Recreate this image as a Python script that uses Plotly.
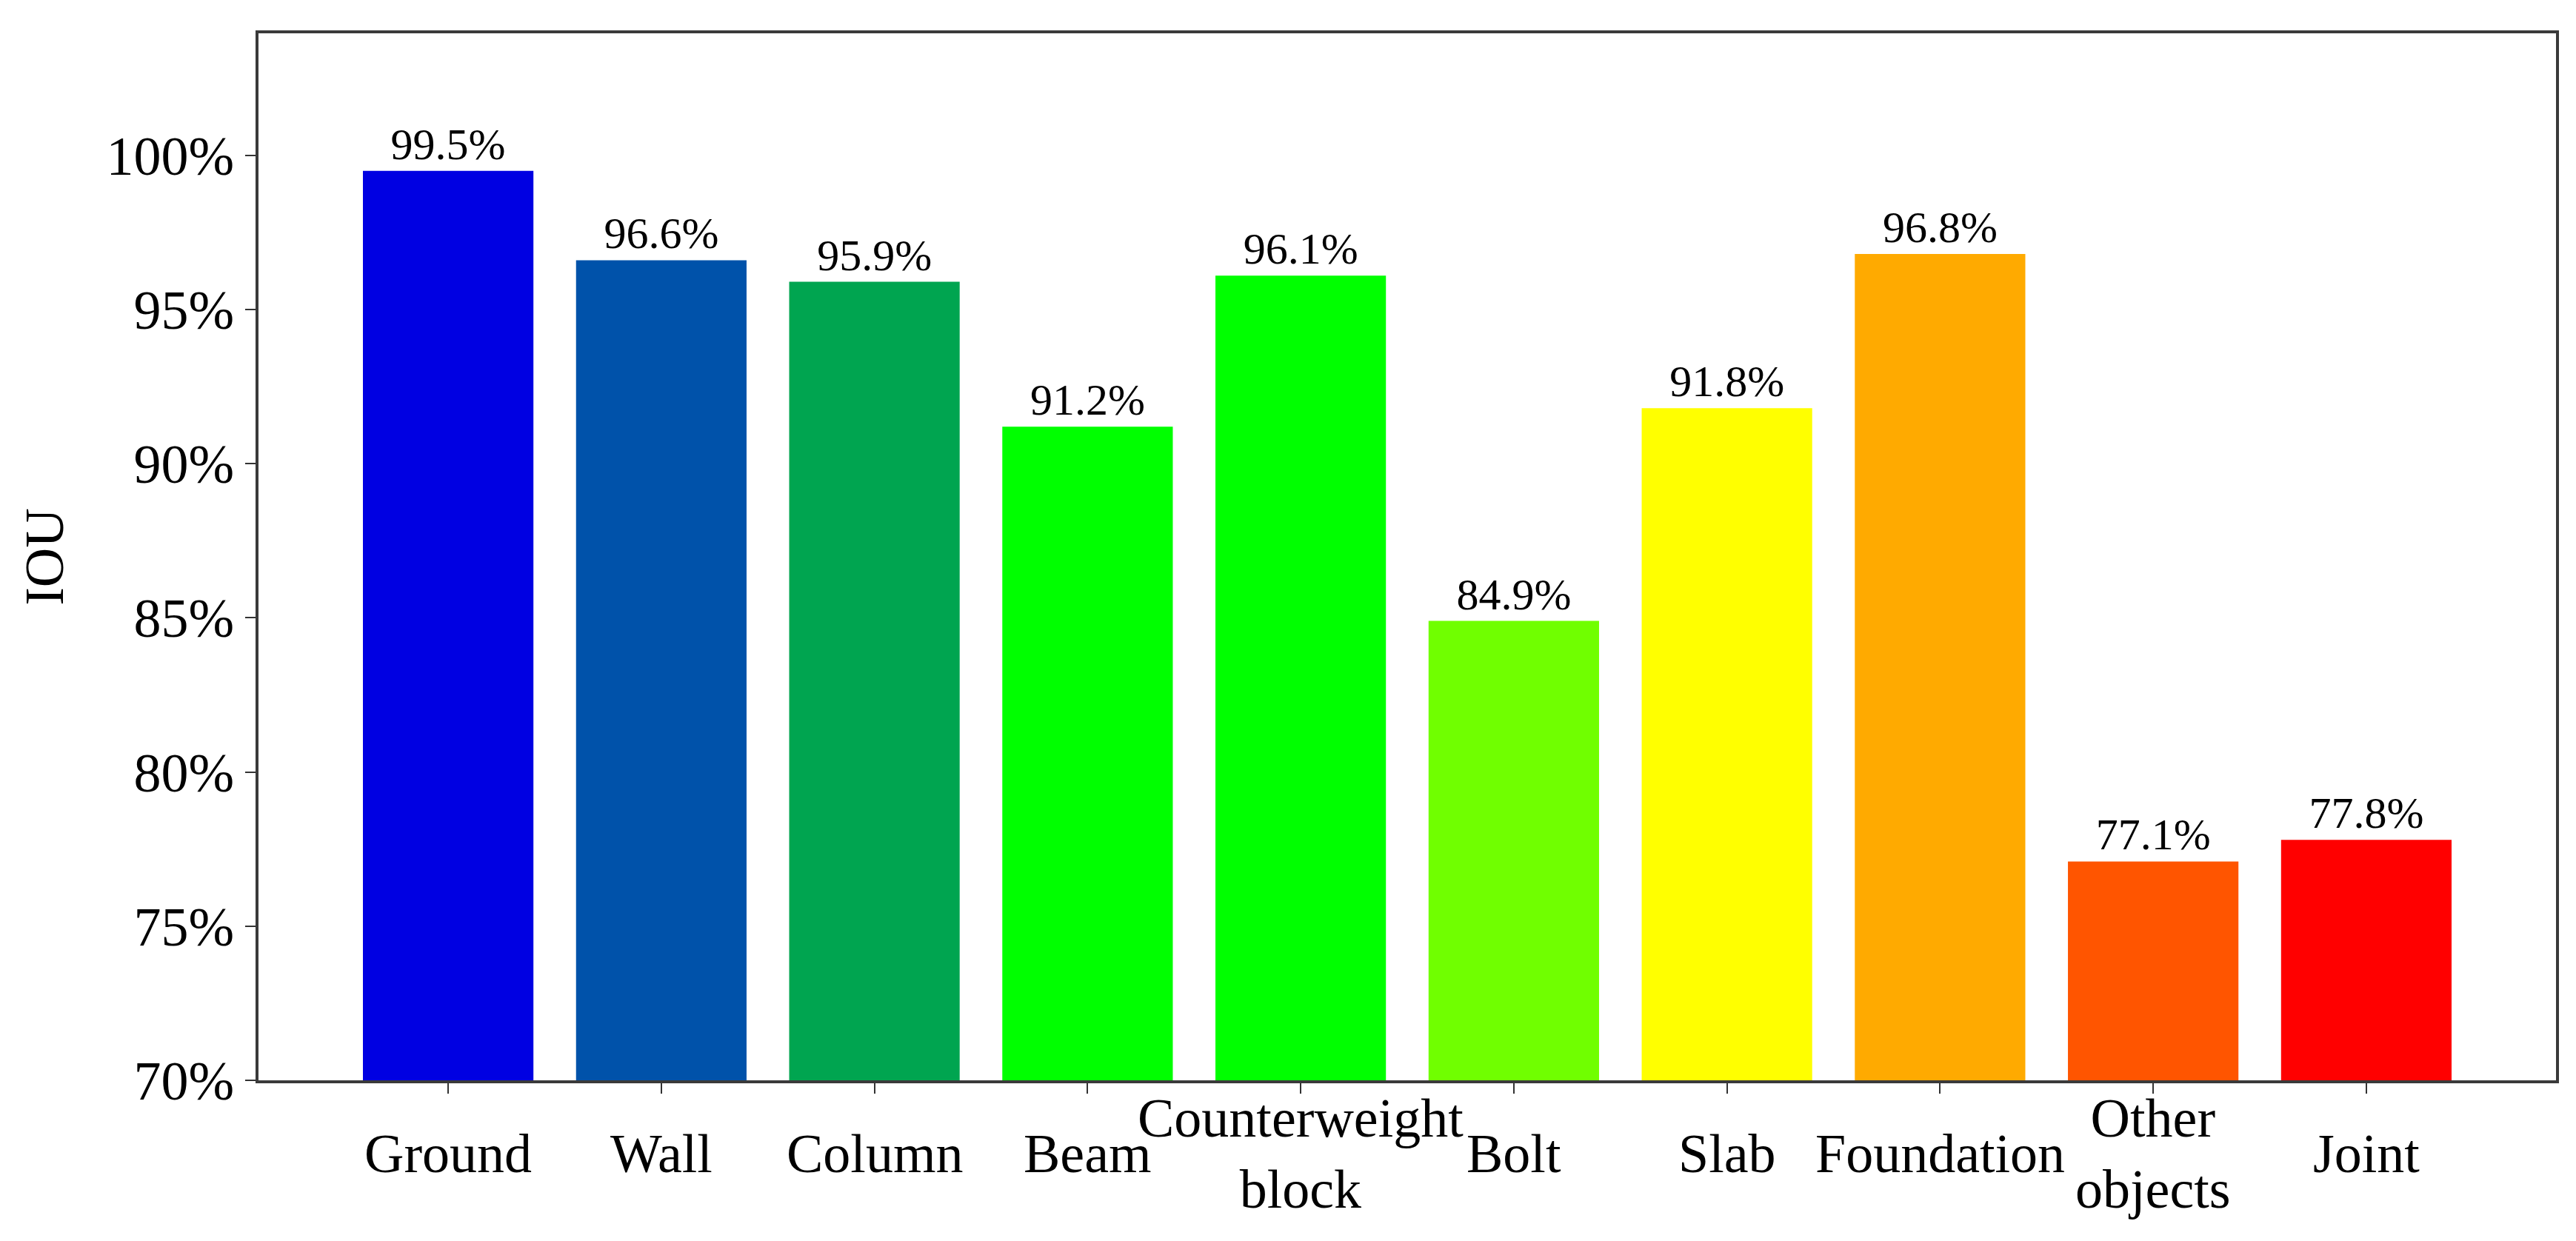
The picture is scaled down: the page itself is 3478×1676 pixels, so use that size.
import plotly.graph_objects as go

categories = ["Ground", "Wall", "Column", "Beam", "Counterweight<br>block",
              "Bolt", "Slab", "Foundation", "Other<br>objects", "Joint"]
iou_values = [99.5, 96.6, 95.9, 91.2, 96.1, 84.9, 91.8, 96.8, 77.1, 77.8]
bar_colors = ["#0000E2", "#0052AA", "#00A550", "#00FF00", "#00FF00",
              "#70FF00", "#FFFF00", "#FFAA00", "#FF5500", "#FF0000"]
y_tick_vals = [70, 75, 80, 85, 90, 95, 100]
y_tick_text = ["70%", "75%", "80%", "85%", "90%", "95%", "100%"]
bar_labels = [f"{v:.1f}%" for v in iou_values]

FONT = "Liberation Serif, Times New Roman, serif"
x_pos = list(range(len(categories)))

fig = go.Figure()
fig.add_trace(go.Bar(
    x=x_pos,
    y=iou_values,
    marker=dict(color=bar_colors, line=dict(width=0)),
    width=0.8,
    text=bar_labels,
    textposition="outside",
    textfont=dict(family=FONT, size=60, color="black"),
    constraintext="none",
    cliponaxis=False,
    showlegend=False,
))

# category labels, vertically centred like the reference (multi-line ones centred on the same line)
for xi, cat in zip(x_pos, categories):
    fig.add_annotation(
        x=xi, xref="x", y=0, yref="paper",
        text=cat, showarrow=False,
        yanchor="middle", xanchor="center", align="center",
        yshift=-99,
        font=dict(family=FONT, size=74, color="black"),
    )

fig.update_layout(
    width=3478, height=1676,
    margin=dict(l=341, r=35, t=37, b=225, autoexpand=False),
    paper_bgcolor="white", plot_bgcolor="white",
    font=dict(family=FONT, size=74, color="black"),
    bargap=0.2,
)
fig.update_xaxes(
    range=[-0.89, 9.89],
    tickmode="array",
    tickvals=x_pos,
    showticklabels=False,
    automargin=False,
    ticks="outside", ticklen=14, tickwidth=2, tickcolor="#333",
    showline=True, linecolor="#3a3a3a", linewidth=4, mirror=True,
    showgrid=False, zeroline=False,
)
fig.update_yaxes(
    range=[70, 103.96],
    tickmode="array",
    tickvals=y_tick_vals,
    ticktext=y_tick_text,
    automargin=False,
    ticks="outside", ticklen=14, tickwidth=2, tickcolor="#333",
    showline=True, linecolor="#3a3a3a", linewidth=4, mirror=True,
    showgrid=False, zeroline=False,
    tickfont=dict(family=FONT, size=74, color="black"),
    title=dict(text="IOU", font=dict(family=FONT, size=74, color="black"), standoff=35),
)

fig.write_html("out.html")
